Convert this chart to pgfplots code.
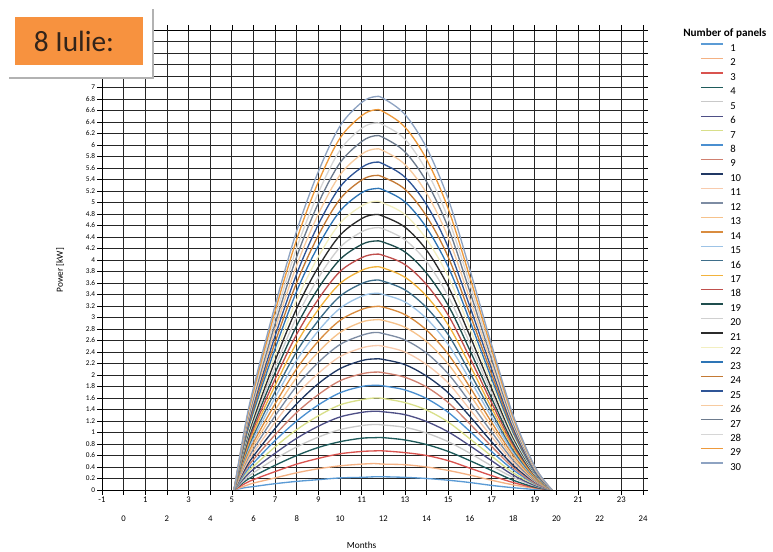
\documentclass[border=0pt]{standalone}
\usepackage{fontspec}
\setmainfont{Carlito}
\usepackage{pgfplots}
\usepackage{pgfplotstable}
\pgfplotsset{compat=1.18}

% series colours, one per number of panels
\definecolor{c1}{HTML}{5B9BD5}
\definecolor{c2}{HTML}{F4B183}
\definecolor{c3}{HTML}{D9534F}
\definecolor{c4}{HTML}{1E5B5B}
\definecolor{c5}{HTML}{C9C9C9}
\definecolor{c6}{HTML}{4E4F86}
\definecolor{c7}{HTML}{D8DF8A}
\definecolor{c8}{HTML}{4A8FD0}
\definecolor{c9}{HTML}{D08070}
\definecolor{c10}{HTML}{203864}
\definecolor{c11}{HTML}{F8CBAD}
\definecolor{c12}{HTML}{7D8CA3}
\definecolor{c13}{HTML}{F6C28B}
\definecolor{c14}{HTML}{D98C3F}
\definecolor{c15}{HTML}{9DC3E6}
\definecolor{c16}{HTML}{3E6E8A}
\definecolor{c17}{HTML}{F2B33D}
\definecolor{c18}{HTML}{C0504D}
\definecolor{c19}{HTML}{1F4E4E}
\definecolor{c20}{HTML}{D0D0D0}
\definecolor{c21}{HTML}{2B2B2B}
\definecolor{c22}{HTML}{F3EFC0}
\definecolor{c23}{HTML}{2E75B6}
\definecolor{c24}{HTML}{C47A35}
\definecolor{c25}{HTML}{2F5597}
\definecolor{c26}{HTML}{F7CBA0}
\definecolor{c27}{HTML}{6D7B8D}
\definecolor{c28}{HTML}{D6D6D6}
\definecolor{c29}{HTML}{EE9A3C}
\definecolor{c30}{HTML}{8EA3C2}
\definecolor{boxorange}{HTML}{F7923F}
\definecolor{boxtext}{HTML}{33241A}

% power [kW] over the day for 1 ... 30 panels
\pgfplotstableread{
x p1 p2 p3 p4 p5 p6 p7 p8 p9 p10 p11 p12 p13 p14 p15 p16 p17 p18 p19 p20 p21 p22 p23 p24 p25 p26 p27 p28 p29 p30
5.1 0 0 0 0 0 0 0 0 0 0 0 0 0 0 0 0 0 0 0 0 0 0 0 0 0 0 0 0 0 0
5.6 0.04 0.07 0.11 0.15 0.18 0.22 0.26 0.29 0.33 0.36 0.40 0.44 0.47 0.51 0.55 0.58 0.62 0.66 0.69 0.73 0.77 0.80 0.84 0.88 0.91 0.95 0.98 1.02 1.06 1.09
6 0.06 0.12 0.18 0.24 0.30 0.36 0.41 0.47 0.53 0.59 0.65 0.71 0.77 0.83 0.89 0.95 1.01 1.07 1.13 1.19 1.24 1.30 1.36 1.42 1.48 1.54 1.60 1.66 1.72 1.78
7 0.11 0.21 0.32 0.43 0.54 0.64 0.75 0.86 0.96 1.07 1.18 1.29 1.39 1.50 1.61 1.71 1.82 1.93 2.04 2.14 2.25 2.36 2.46 2.57 2.68 2.79 2.89 3.00 3.11 3.21
8 0.15 0.30 0.45 0.60 0.75 0.90 1.05 1.20 1.35 1.50 1.66 1.81 1.96 2.11 2.26 2.41 2.56 2.71 2.86 3.01 3.16 3.31 3.46 3.61 3.76 3.91 4.06 4.21 4.36 4.51
9 0.18 0.37 0.55 0.74 0.92 1.11 1.29 1.48 1.66 1.85 2.03 2.22 2.40 2.59 2.77 2.95 3.14 3.32 3.51 3.69 3.88 4.06 4.25 4.43 4.62 4.80 4.99 5.17 5.36 5.54
10 0.21 0.42 0.63 0.84 1.05 1.27 1.48 1.69 1.90 2.11 2.32 2.53 2.74 2.95 3.16 3.37 3.59 3.80 4.01 4.22 4.43 4.64 4.85 5.06 5.27 5.48 5.69 5.91 6.12 6.33
11 0.22 0.45 0.67 0.90 1.12 1.35 1.57 1.80 2.02 2.25 2.47 2.69 2.92 3.14 3.37 3.59 3.82 4.04 4.27 4.49 4.72 4.94 5.17 5.39 5.61 5.84 6.06 6.29 6.51 6.74
11.6 0.23 0.46 0.68 0.91 1.14 1.37 1.60 1.82 2.05 2.28 2.51 2.74 2.96 3.19 3.42 3.65 3.88 4.10 4.33 4.56 4.79 5.02 5.24 5.47 5.70 5.93 6.16 6.38 6.61 6.84
12 0.23 0.45 0.68 0.91 1.13 1.36 1.59 1.81 2.04 2.27 2.50 2.72 2.95 3.18 3.40 3.63 3.86 4.08 4.31 4.54 4.76 4.99 5.22 5.44 5.67 5.90 6.13 6.35 6.58 6.81
13 0.22 0.44 0.65 0.87 1.09 1.31 1.52 1.74 1.96 2.18 2.40 2.61 2.83 3.05 3.27 3.48 3.70 3.92 4.14 4.35 4.57 4.79 5.01 5.23 5.44 5.66 5.88 6.10 6.31 6.53
14 0.20 0.40 0.60 0.79 0.99 1.19 1.39 1.59 1.79 1.98 2.18 2.38 2.58 2.78 2.98 3.17 3.37 3.57 3.77 3.97 4.17 4.36 4.56 4.76 4.96 5.16 5.36 5.55 5.75 5.95
15 0.17 0.34 0.51 0.67 0.84 1.01 1.18 1.35 1.52 1.69 1.86 2.02 2.19 2.36 2.53 2.70 2.87 3.04 3.21 3.37 3.54 3.71 3.88 4.05 4.22 4.39 4.56 4.72 4.89 5.06
16 0.13 0.26 0.38 0.51 0.64 0.77 0.89 1.02 1.15 1.28 1.40 1.53 1.66 1.79 1.92 2.04 2.17 2.30 2.43 2.55 2.68 2.81 2.94 3.06 3.19 3.32 3.45 3.58 3.70 3.83
17 0.08 0.17 0.25 0.34 0.42 0.51 0.59 0.67 0.76 0.84 0.93 1.01 1.10 1.18 1.27 1.35 1.43 1.52 1.60 1.69 1.77 1.86 1.94 2.02 2.11 2.19 2.28 2.36 2.45 2.53
18 0.04 0.09 0.13 0.17 0.22 0.26 0.30 0.35 0.39 0.43 0.48 0.52 0.56 0.61 0.65 0.69 0.74 0.78 0.82 0.87 0.91 0.95 1.00 1.04 1.08 1.13 1.17 1.21 1.26 1.30
19 0.01 0.03 0.04 0.05 0.07 0.08 0.10 0.11 0.12 0.14 0.15 0.16 0.18 0.19 0.21 0.22 0.23 0.25 0.26 0.27 0.29 0.30 0.31 0.33 0.34 0.36 0.37 0.38 0.40 0.41
19.8 0 0 0 0 0 0 0 0 0 0 0 0 0 0 0 0 0 0 0 0 0 0 0 0 0 0 0 0 0 0
}\powerdata

\begin{document}
\begin{tikzpicture}
\useasboundingbox (0,0) rectangle (579.75pt,414pt);
\begin{axis}[
  at={(76.5pt,46.5pt)}, anchor=south west,
  scale only axis, width=405.75pt, height=345pt,
  xmin=-1, xmax=24, ymin=0, ymax=8,
  xtick={-1,1,...,23},
  extra x ticks={0,2,...,24},
  extra x tick style={grid=major, tick label style={yshift=-14pt}},
  ytick distance=0.2,
  % the labels above 7.2 sit under the date box
  yticklabel={\ifdim\tick pt>7.3pt\else\pgfmathprintnumber{\tick}\fi},
  grid=major,
  major grid style={black!85, line width=0.55pt},
  axis line style={black, line width=0.6pt},
  tick align=outside, major tick length=3.5pt,
  tick style={black, line width=0.5pt},
  /pgf/number format/assume math mode=true,
  xticklabel style={font=\fontsize{6.5}{7}\selectfont, inner sep=1.5pt},
  yticklabel style={font=\fontsize{5.5}{6}\selectfont, inner sep=1.5pt,
    /pgf/number format/.cd, fixed, precision=1},
  xlabel={Months}, ylabel={Power [kW]},
  xlabel style={at={(axis description cs:0.48,-0.1196)}, anchor=center,
    font=\fontsize{7}{8}\selectfont},
  ylabel style={at={(axis description cs:-0.0776,0.478)}, anchor=center,
    font=\fontsize{7}{8}\selectfont},
  legend style={at={(axis description cs:1.1054,0.9717)}, anchor=north west,
    draw=none, fill=none, inner sep=0pt, row sep=4.84pt,
    font=\fontsize{8}{9}\selectfont,
    nodes={inner sep=0pt, text height=6pt, text depth=0pt},
    /tikz/column sep=5pt},
  legend cell align=left,
  legend image code/.code={\draw[#1] (0pt,2.5pt) -- (16.5pt,2.5pt);},
  every axis plot/.append style={line width=1pt, smooth, tension=0.55},
]
\pgfplotsinvokeforeach{1,...,30}{
  \addplot[color=c#1] table[x=x, y=p#1] {\powerdata};
  \addlegendentry{#1}
}
\end{axis}
% legend heading
\node[anchor=west, font=\bfseries\fontsize{8.4}{9}\selectfont, inner sep=0pt] at (512.25pt,389.25pt) {Number of panels};
% date caption box
\fill[black!30] (6.75pt,354.75pt) rectangle (115.5pt,407.25pt);
\fill[white] (5.25pt,356.25pt) rectangle (114pt,408.75pt);
\fill[boxorange] (11.25pt,365.25pt) rectangle (107.25pt,401.25pt);
\node[font=\fontsize{22}{24}\selectfont, text=boxtext] at (55.5pt,383.25pt) {8 Iulie:};
\end{tikzpicture}
\end{document}
